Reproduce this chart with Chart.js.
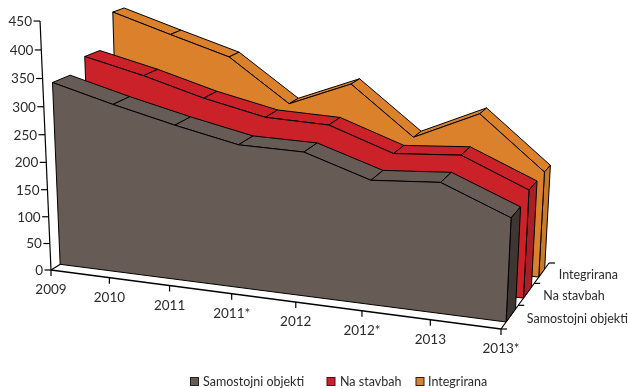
<!DOCTYPE html>
<html>
<head>
<meta charset="utf-8">
<style>html,body{margin:0;padding:0;background:#fff}canvas{display:block}</style>
<script src="https://cdn.jsdelivr.net/npm/chart.js@4"></script>
</head>
<body>
<canvas id="chart" width="628" height="388"></canvas>
<script>
const categories = ['2009', '2010', '2011', '2011*', '2012', '2012*', '2013', '2013*'];
const valueTicks = [0, 50, 100, 150, 200, 250, 300, 350, 400, 450];
const seriesNames = ['Samostojni objekti', 'Na stavbah', 'Integrirana'];
const samostojni = [336, 306, 279, 255, 253, 216, 224, 177];
const naStavbah = [359, 332, 300, 275, 271, 231, 239, 190];
const integrirana = [421, 386, 352, 274, 319, 232, 284, 191];

const seriesValues = [samostojni, naStavbah, integrirana];
const INK = '#2b2b2b';
const styles = [
  { face: '#675b56', side: '#3e3632', depth: [0.096, 0.279], key: 190.5, text: 203 },
  { face: '#cb222a', side: '#a81f28', depth: [0.44, 0.607], key: 327, text: 340 },
  { face: '#db812c', side: '#c8792a', depth: [0.767, 0.90], key: 416, text: 428 }
];

// Floor corners of the oblique box, and where its verticals converge.
const floor = { a: [51, 270], b: [501, 329], c: [549, 263], d: [138, 216] };
const vertical = { x: 270, y: 5240, k: -0.000106 };

const H = (() => {
  const { a, b, c, d } = floor;
  const dx1 = b[0] - c[0], dx2 = d[0] - c[0], sx = a[0] - b[0] + c[0] - d[0];
  const dy1 = b[1] - c[1], dy2 = d[1] - c[1], sy = a[1] - b[1] + c[1] - d[1];
  const den = dx1 * dy2 - dx2 * dy1;
  const g = (sx * dy2 - dx2 * sy) / den, h = (dx1 * sy - sx * dy1) / den;
  return { a: b[0] - a[0] + g * b[0], b: d[0] - a[0] + h * d[0], c: a[0],
           d: b[1] - a[1] + g * b[1], e: d[1] - a[1] + h * d[1], f: a[1], g, h };
})();

// Perspective projection of (category index, depth 0..1, value).
function project(i, depth, value) {
  const u = i / (categories.length - 1);
  const X = H.a * u + H.b * depth + H.c;
  const Y = H.d * u + H.e * depth + H.f;
  const W = H.g * u + H.h * depth + 1;
  const q = value * vertical.k;
  return { x: (X + q * vertical.x) / (W + q), y: (Y + q * vertical.y) / (W + q) };
}

const paint = [];
function stroke(points, width) {
  paint.push({ data: points, borderColor: '#000', borderWidth: width || 1.2, fill: false,
    pointRadius: 0, tension: 0, clip: false, label: '' });
}
function polygon(points, colour) {
  paint.push({ data: points.concat([points[0]]), borderColor: '#000', borderWidth: 1,
    backgroundColor: colour, fill: 'shape', pointRadius: 0, tension: 0,
    borderJoinStyle: 'round', clip: false, label: '' });
}
const shift = (p, dx, dy) => ({ x: p.x + dx, y: p.y + dy });

// Value axis, floor edges and their tick marks.
stroke([project(0, 0, 0), project(0, 0, valueTicks[valueTicks.length - 1])]);
valueTicks.forEach(v => { const p = project(0, 0, v); stroke([shift(p, -6.5, 0), p]); });
stroke([project(0, 0, 0), project(7, 0, 0)], 1.5);
stroke([project(0, 0, 0), project(0, 0.15, 0)]);
stroke([project(7, 0, 0), project(7, 1, 0)]);
categories.forEach((c, i) => { const p = project(i, 0, 0); stroke([p, shift(p, 0, 6)]); });
[0, 1, 2, 3].forEach(n => { const p = project(7, n / 3, 0); stroke([p, shift(p, 6, 0)]); });

// Bands run back to front so nearer series cover farther ones.
[2, 1, 0].forEach(s => {
  const vals = seriesValues[s], st = styles[s], [df, db] = st.depth, last = vals.length - 1;
  for (let i = 0; i < last; i++) {
    polygon([project(i, df, vals[i]), project(i + 1, df, vals[i + 1]),
             project(i + 1, db, vals[i + 1]), project(i, db, vals[i])], st.face);
  }
  polygon([project(last, df, vals[last]), project(last, db, vals[last]),
           project(last, db, 0), project(last, df, 0)], st.side);
  polygon([project(0, df, 0)].concat(vals.map((v, i) => project(i, df, v)), [project(last, df, 0)]), st.face);
});

// Axis labels and the key under the plot.
const axisText = {
  id: 'axisText',
  afterDraw(chart) {
    const { ctx, scales: { x, y } } = chart;
    const put = (text, p, dx, dy, align) => {
      ctx.textAlign = align; ctx.textBaseline = 'middle';
      ctx.fillText(text, x.getPixelForValue(p.x) + dx, y.getPixelForValue(p.y) + dy);
    };
    ctx.save();
    ctx.fillStyle = INK;
    ctx.font = '13.5px Lato, sans-serif';
    valueTicks.forEach(v => put(String(v), project(0, 0, v), -8, 0.5, 'right'));
    categories.forEach((c, i) => put(c, project(i, 0, 0), 0, 20, 'center'));
    ctx.font = '12.5px Lato, sans-serif';
    seriesNames.forEach((n, s) => put(n, project(7, (s + 0.5) / 3, 0), 17, 2, 'left'));
    seriesNames.forEach((n, s) => {
      ctx.textAlign = 'left'; ctx.textBaseline = 'middle';
      ctx.fillStyle = INK;
      ctx.fillText(n, styles[s].text, 381.5);
      ctx.fillStyle = styles[s].face;
      ctx.strokeStyle = '#222';
      ctx.lineWidth = 1;
      ctx.fillRect(styles[s].key, 377.5, 8, 8);
      ctx.strokeRect(styles[s].key, 377.5, 8, 8);
    });
    ctx.restore();
  }
};

new Chart(document.getElementById('chart'), {
  type: 'line',
  data: { datasets: paint.slice().reverse() },
  plugins: [axisText],
  options: {
    responsive: false,
    animation: false,
    events: [],
    layout: { padding: 0 },
    scales: {
      x: { type: 'linear', display: false, min: 0, max: 628, bounds: 'data' },
      y: { type: 'linear', display: false, reverse: true, min: 0, max: 388, bounds: 'data' }
    },
    plugins: { tooltip: { enabled: false }, legend: { display: false } }
  }
});
</script>
</body>
</html>
